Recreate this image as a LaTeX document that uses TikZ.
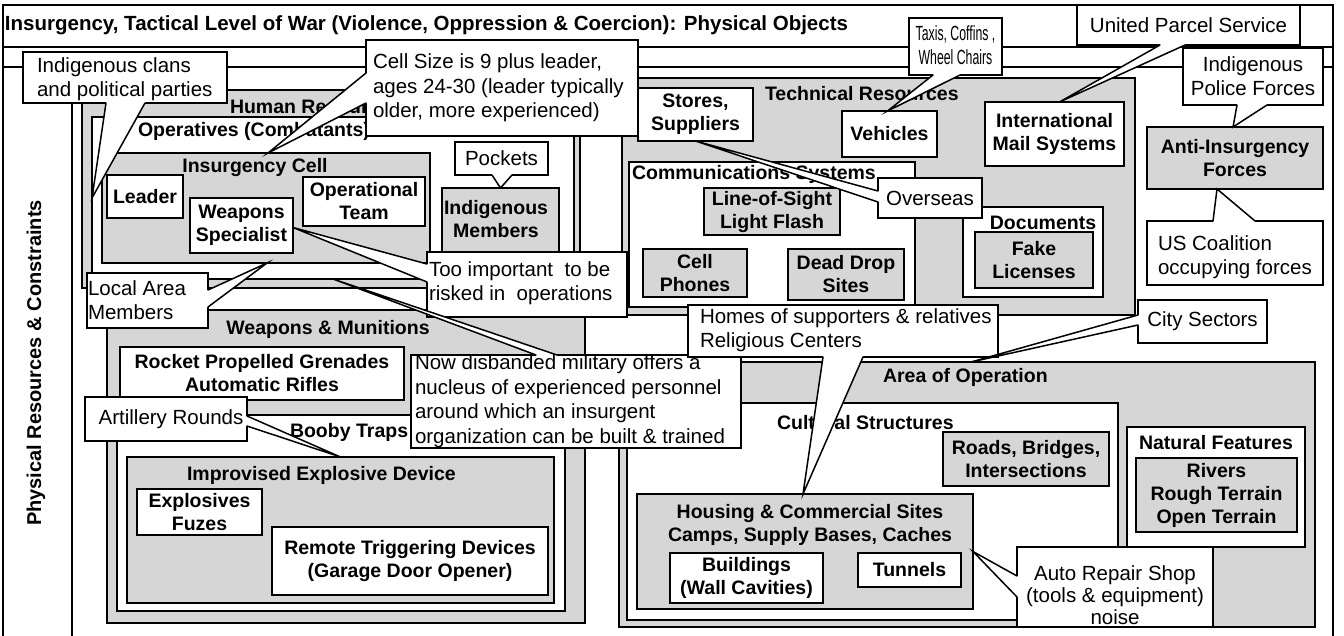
\documentclass[tikz,border=0pt]{standalone}
\usepackage{fontspec}
\setmainfont{Liberation Sans}
\usetikzlibrary{calc}
\definecolor{shade}{gray}{0.84}
\newcommand\lblfont{\fontsize{19.5}{23}\selectfont\bfseries}
\newcommand\calfont{\fontsize{20.5}{24.5}\selectfont}
\newcommand\ttlfont{\fontsize{20.5}{24}\selectfont\bfseries}
% box given by its top-left and bottom-right corners
\newcommand\boxnode[6]{\node[#1, minimum width={(#5)-(#3)}, minimum height={(#6)-(#4)}, anchor=north west] (#2) at (#3,#4) {};}
% same, with a centred label inside
\newcommand\boxtext[7]{\node[#1, lbl, minimum width={(#5)-(#3)}, minimum height={(#6)-(#4)}] (#2) at ({((#3)+(#5))/2},{((#4)+(#6))/2}) {#7};}
% callout pointer: base points #1,#2 on the callout border, tip #3, #4 = shift into the callout
\newcommand\calloutptr[4]{%
  \fill[white] ($(#1)+(#4)$) -- (#1) -- (#3) -- (#2) -- ($(#2)+(#4)$) -- cycle;
  \draw[wl] (#1) -- (#3) -- (#2);}
\begin{document}
\begin{tikzpicture}[x=1pt,y=-1pt,
  every node/.style={outer sep=0pt},
  rim/.style={draw=black, line width=1.5pt},
  frame/.style={rectangle, rim, inner sep=0pt},
  gbox/.style={rectangle, rim, fill=shade, inner sep=0pt},
  wbox/.style={rectangle, rim, fill=white, inner sep=0pt},
  cbox/.style={rectangle, rim, fill=white, inner sep=0pt},
  lbl/.style={font=\lblfont, align=center, inner sep=0pt},
  ctxt/.style={font=\calfont, align=left, inner sep=0pt},
  wl/.style={draw=black, line width=1.5pt, line cap=round, line join=miter}]
\path[use as bounding box] (0,0) rectangle (1344,635);
\clip (0,0) rectangle (1344,635);

% ---------- frame ----------
\boxnode{frame}{outer}{3}{5}{1333}{660}
\boxnode{frame}{ttl}{3}{5}{1333}{47}
\boxnode{frame}{prc}{3}{67}{1333}{660}
\boxnode{frame}{prcl}{3}{67}{72}{660}
\node[font=\ttlfont, anchor=base west, inner sep=0pt] (ttltext) at (5,30)
  {Insurgency, Tactical Level of War (Violence, Oppression \& Coercion): Physical Objects};
\node[font=\fontsize{20}{24}\selectfont\bfseries, rotate=90, inner sep=0pt] (prclbl) at (36,363)
  {Physical Resources \& Constraints};

% ---------- human resources ----------
\boxnode{gbox}{hr}{82}{90}{580}{288}
\node[lbl, anchor=base west] (hrt) at (230,113) {Human Resources};
\boxnode{wbox}{op}{92}{117}{574}{279}
\node[lbl, anchor=base west] (opt) at (138,136) {Operatives (Combatants)};
\boxnode{gbox}{ic}{102}{153}{430}{263}
\node[lbl, anchor=base] (ict) at (255,172) {Insurgency Cell};
\boxtext{wbox}{ldr}{107}{175}{183}{218}{Leader}
\boxtext{wbox}{ws}{190}{198}{293}{253}{Weapons\\Specialist}
\boxtext{wbox}{ot}{303}{177}{425}{226}{Operational\\Team}
\boxnode{gbox}{im}{442}{188}{559}{262}
\node[lbl] (imt) at (496,219) {Indigenous\\Members};

% ---------- weapons & munitions ----------
\boxnode{gbox}{wm}{107}{310}{585}{623}
\node[lbl, anchor=base] (wmt) at (328,334) {Weapons \& Munitions};
\boxtext{wbox}{rpg}{120}{347}{404}{400}{Rocket Propelled Grenades\\Automatic Rifles}
\boxnode{wbox}{bt}{117}{415}{565}{611}
\node[lbl, anchor=base west] (btt) at (290,437) {Booby Traps};
\boxnode{gbox}{ied}{127}{457}{554}{603}
\node[lbl, anchor=base west] (iedt) at (187,480) {Improvised Explosive Device};
\boxtext{wbox}{exf}{137}{489}{262}{535}{Explosives\\Fuzes}
\boxtext{wbox}{rtd}{272}{527}{548}{595}{Remote Triggering Devices\\(Garage Door Opener)}

% ---------- technical resources ----------
\boxnode{gbox}{tr}{622}{78}{1135}{315}
\node[lbl, anchor=base west] (trt) at (765,100) {Technical Resources};
\boxtext{wbox}{sto}{638}{88}{753}{141}{Stores,\\Suppliers}
\boxtext{wbox}{veh}{842}{111}{937}{157}{Vehicles}
\boxtext{wbox}{ims}{985}{102}{1124}{166}{International\\Mail Systems}
\boxnode{wbox}{cms}{629}{162}{915}{307}
\node[lbl, anchor=base west] (cmst) at (632,179) {Communications Systems};
\boxtext{gbox}{los}{704}{188}{840}{235}{Line-of-Sight\\Light Flash}
\boxtext{gbox}{cph}{643}{249}{747}{297}{Cell\\Phones}
\boxtext{gbox}{dds}{788}{249}{904}{300}{Dead Drop\\Sites}
\boxnode{wbox}{doc}{963}{207}{1103}{297}
\node[lbl, anchor=base] (doct) at (1043,229) {Documents};
\boxtext{gbox}{fl}{975}{232}{1093}{288}{Fake\\Licenses}

% ---------- anti-insurgency ----------
\boxtext{gbox}{aif}{1147}{127}{1323}{189}{Anti-Insurgency\\Forces}

% ---------- area of operation ----------
\boxnode{gbox}{aoo}{619}{362}{1315}{627}
\node[lbl, anchor=base west] (aoot) at (883,382) {Area of Operation};
\boxnode{wbox}{cul}{627}{403}{1118}{620}
\node[lbl, anchor=base west] (cult) at (777,429) {Cultural Structures};
\boxtext{gbox}{rbi}{943}{432}{1109}{486}{Roads, Bridges,\\Intersections}
\boxnode{gbox}{hcs}{637}{494}{973}{609}
\node[lbl] (hcst) at (810,525) {Housing \& Commercial Sites\\Camps, Supply Bases, Caches};
\boxtext{wbox}{bld}{670}{553}{823}{603}{Buildings\\(Wall Cavities)}
\boxtext{wbox}{tun}{858}{553}{961}{587}{Tunnels}
\boxnode{wbox}{nf}{1127}{427}{1305}{547}
\node[lbl, anchor=base] (nft) at (1216,449) {Natural Features};
\boxtext{gbox}{riv}{1136}{458}{1297}{532}{Rivers\\Rough Terrain\\Open Terrain}

% ---------- callouts ----------
\boxnode{cbox}{cla}{23}{52}{227}{103}
\coordinate (cla-a) at ($(cla.south west)+(83,0)$);
\coordinate (cla-b) at ($(cla.south west)+(122,0)$);
\calloutptr{cla-a}{cla-b}{op.west}{0,-2}
\node[ctxt, anchor=west] (clat) at (37,79) {Indigenous clans\\and political parties};

\boxnode{cbox}{csz}{366}{40}{638}{136}
\coordinate (csz-a) at ($(csz.north west)+(0,33)$);
\coordinate (csz-b) at ($(csz.north west)+(0,63)$);
\coordinate (csz-t) at ($(ic.north)+(2,0)$);
\calloutptr{csz-a}{csz-b}{csz-t}{2,0}
\node[ctxt, anchor=west] (cszt) at (373,88) {Cell Size is 9 plus leader,\\ages 24-30 (leader typically\\older, more experienced)};

\boxnode{cbox}{poc}{455}{142}{548}{175}
\coordinate (poc-a) at ($(poc.south west)+(37,0)$);
\coordinate (poc-b) at ($(poc.south west)+(57,0)$);
\calloutptr{poc-a}{poc-b}{im.north}{0,-2}
\node[ctxt] (poct) at (501.5,158.5) {Pockets};

\boxnode{cbox}{tim}{427}{252}{627}{317}
\coordinate (tim-a) at ($(tim.north west)+(0,12)$);
\coordinate (tim-b) at ($(tim.north west)+(0,30)$);
\coordinate (tim-t) at ($(ws.east)+(0,2)$);
\calloutptr{tim-a}{tim-b}{tim-t}{2,0}
\node[ctxt, anchor=west] (timt) at (429,283) {Too important\ \ to be\\risked in\ \ operations};

\boxnode{cbox}{lam}{87}{273}{208}{328}
\coordinate (lam-a) at ($(lam.north east)+(0,17)$);
\coordinate (lam-b) at ($(lam.north east)+(0,34)$);
\coordinate (lam-t) at ($(ic.south)+(1,0)$);
\calloutptr{lam-a}{lam-b}{lam-t}{-2,0}
\node[ctxt, anchor=west] (lamt) at (88,300) {Local Area\\Members};

\boxnode{cbox}{dis}{411}{355}{741}{448}
\coordinate (dis-a) at ($(dis.north west)+(125,0)$);
\coordinate (dis-b) at ($(dis.north west)+(146,0)$);
\calloutptr{dis-a}{dis-b}{op.south}{0,2}
\node[ctxt, anchor=west] (dist) at (415,401) {Now disbanded military offers a\\nucleus of experienced personnel\\around which an insurgent\\organization can be built \& trained};

\boxnode{cbox}{art}{85}{397}{247}{441}
\coordinate (art-a) at ($(art.north east)+(0,19)$);
\coordinate (art-b) at ($(art.north east)+(0,29)$);
\calloutptr{art-a}{art-b}{ied.north}{-2,0}
\node[ctxt] (artt) at (171,419) {Artillery Rounds};

\boxnode{cbox}{hom}{688}{305}{998}{357}
\coordinate (hom-a) at ($(hom.south west)+(135,0)$);
\coordinate (hom-b) at ($(hom.south west)+(175,0)$);
\coordinate (hom-t) at ($(hcs.north)+(-2,0)$);
\calloutptr{hom-a}{hom-b}{hom-t}{0,-2}
\node[ctxt, anchor=west] (homt) at (700,330) {Homes of supporters \& relatives\\Religious Centers};

\boxnode{cbox}{cit}{1138}{300}{1267}{343}
\coordinate (cit-a) at ($(cit.north west)+(0,15)$);
\coordinate (cit-b) at ($(cit.north west)+(0,25)$);
\coordinate (cit-t) at ($(aoo.north)+(4,0)$);
\calloutptr{cit-a}{cit-b}{cit-t}{2,0}
\node[ctxt] (citt) at (1202.5,321.5) {City Sectors};

\boxnode{cbox}{aut}{1017}{547}{1213}{627}
\coordinate (aut-a) at ($(aut.north west)+(0,29)$);
\coordinate (aut-b) at ($(aut.north west)+(0,50)$);
\calloutptr{aut-a}{aut-b}{hcs.east}{2,0}
\node[ctxt, align=center, font=\fontsize{20.5}{22}\selectfont] (autt) at (1115,595) {Auto Repair Shop\\(tools \& equipment)\\noise};

\boxnode{cbox}{ovs}{878}{178}{982}{218}
\coordinate (ovs-a) at ($(ovs.north west)+(0,13)$);
\coordinate (ovs-b) at ($(ovs.north west)+(0,24)$);
\calloutptr{ovs-a}{ovs-b}{sto.south}{2,0}
\node[ctxt] (ovst) at (930,198) {Overseas};

\boxnode{cbox}{tax}{909}{18}{1002}{75}
\coordinate (tax-a) at ($(tax.south west)+(24,0)$);
\coordinate (tax-b) at ($(tax.south west)+(51,0)$);
\coordinate (tax-t) at ($(veh.north)+(-2,0)$);
\calloutptr{tax-a}{tax-b}{tax-t}{0,-2}
\node[ctxt, align=center] (taxt) at (955.5,45) {\scalebox{0.6}[1]{Taxis, Coffins ,}\\\scalebox{0.6}[1]{Wheel Chairs}};

\boxnode{cbox}{pol}{1183}{48}{1323}{105}
\coordinate (pol-a) at ($(pol.south west)+(54,0)$);
\coordinate (pol-b) at ($(pol.south west)+(84,0)$);
\coordinate (pol-t) at ($(aif.north)+(-2,0)$);
\calloutptr{pol-a}{pol-b}{pol-t}{0,-2}
\node[ctxt, align=center] (polt) at (1253,76) {Indigenous\\Police Forces};

\boxnode{cbox}{ups}{1077}{5}{1300}{45}
\coordinate (ups-a) at ($(ups.south west)+(83,0)$);
\coordinate (ups-b) at ($(ups.south west)+(108,0)$);
\coordinate (ups-t) at ($(ims.north)+(5,0)$);
\calloutptr{ups-a}{ups-b}{ups-t}{0,-2}
\node[ctxt] (upst) at (1188.5,25) {United Parcel Service};

\boxnode{cbox}{usc}{1147}{221}{1323}{285}
\coordinate (usc-a) at ($(usc.north west)+(66,0)$);
\coordinate (usc-b) at ($(usc.north west)+(108,0)$);
\coordinate (usc-t) at ($(aif.south)+(-18,0)$);
\calloutptr{usc-a}{usc-b}{usc-t}{0,2}
\node[ctxt, anchor=west] (usct) at (1158,257) {US Coalition\\occupying forces};
\end{tikzpicture}
\end{document}
